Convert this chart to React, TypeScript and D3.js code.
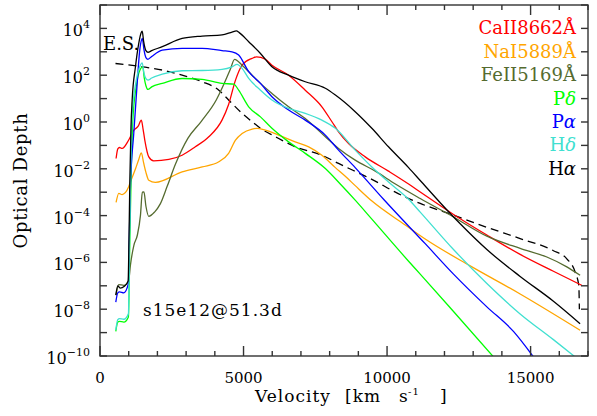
import React from 'react';
import * as d3 from 'd3';

// every point is [velocity in km/s, log10 of optical depth]
const caII8662 = [
  [560, -1.56], [620, -1.15], [680, -1.09], [770, -1.13], [1000, -0.77], [1180, -0.35], [1330, -0.18],
  [1440, 0.08], [1500, -0.3], [1560, -0.77], [1700, -1.49], [1870, -1.66], [2400, -1.6], [2860, -1.42],
  [3320, -1.06], [3790, -0.63], [4250, 0.08], [4480, 0.75], [4720, 1.79], [4950, 2.43], [5300, 2.72],
  [5450, 2.78], [5760, 2.68], [5990, 2.43], [6570, 2.0], [7150, 1.36], [7730, 0.65], [8080, 0.01],
  [8310, -0.42], [8660, -0.92], [9240, -1.49], [10050, -2.1], [10750, -2.65], [11155, -2.99],
  [12315, -3.95], [13477, -4.83], [14636, -5.66], [15795, -6.38], [16784, -6.98],
];
const naI5889 = [
  [560, -3.44], [655, -3.05], [770, -3.1], [1000, -2.77], [1060, -2.56], [1240, -1.99], [1350, -1.6],
  [1440, -1.32], [1520, -1.75], [1600, -2.15], [1700, -2.49], [1930, -2.58], [2860, -2.13], [3560, -1.92],
  [4140, -1.7], [4480, -1.34], [4720, -0.77], [4950, -0.49], [5300, -0.3], [5470, -0.27], [5760, -0.35],
  [6220, -0.56], [6800, -0.85], [7270, -1.06], [7730, -1.42], [8200, -1.95], [8545, -2.32], [8890, -2.72],
  [9474, -3.38], [10633, -4.4], [11329, -5.0], [12896, -6.15], [14636, -7.35], [16725, -8.9],
];
const feII5169 = [
  [560, -7.4], [650, -6.95], [830, -6.98], [1000, -6.76], [1060, -6.12], [1180, -5.27], [1300, -4.84],
  [1410, -3.98], [1475, -3.0], [1530, -2.99], [1600, -3.6], [1700, -4.03], [1900, -3.85], [2100, -3.5],
  [2340, -2.75], [2630, -1.8], [3060, -0.7], [3530, 0.03], [4050, 0.94], [4310, 1.6], [4540, 2.25],
  [4690, 2.68], [4950, 2.43], [5300, 2.0], [5590, 1.65], [5990, 1.22], [6570, 0.65], [7150, 0.15],
  [7850, -0.63], [8310, -1.13], [8890, -1.63], [9590, -2.1], [10290, -2.65], [11155, -3.27],
  [12315, -4.06], [13477, -4.88], [14636, -5.4], [15566, -5.77], [16262, -6.19], [16725, -6.55],
];
const pDelta = [
  [550, -8.95], [620, -8.55], [680, -8.52], [830, -8.55], [990, -8.33], [1040, -5.0], [1090, -2.0],
  [1140, 0.0], [1260, 1.5], [1400, 2.25], [1490, 2.36], [1540, 1.9], [1600, 1.55], [1670, 1.39],
  [1800, 1.5], [2170, 1.65], [2860, 1.86], [3560, 1.82], [4250, 1.65], [4660, 1.62], [4830, 1.36],
  [5180, 0.65], [5590, 0.22], [5990, -0.27], [6570, -0.85], [7150, -1.34], [7850, -1.99], [8370, -2.65],
  [8890, -3.34], [9470, -4.15], [10750, -5.95], [11155, -6.5], [12315, -8.1], [13709, -10.04],
];
const pAlpha = [
  [550, -7.7], [620, -7.3], [680, -7.26], [830, -7.3], [990, -6.9], [1020, -5.0], [1062, -2.7],
  [1176, -0.49], [1295, 1.65], [1385, 3.07], [1450, 3.52], [1475, 3.57], [1530, 3.1], [1600, 2.75],
  [1670, 2.68], [1800, 2.8], [2170, 3.07], [2860, 3.15], [3560, 3.15], [4250, 3.05], [4600, 3.0],
  [4830, 2.86], [5180, 2.15], [5590, 1.65], [5990, 1.08], [6570, 0.51], [7150, 0.08], [7850, -0.56],
  [8310, -1.2], [8890, -1.95], [9126, -2.27], [9878, -3.3], [11329, -5.2], [12315, -6.5],
  [13477, -7.9], [14403, -8.95], [15100, -10.04],
];
const hDelta = [
  [550, -8.9], [620, -8.45], [680, -8.4], [830, -8.43], [990, -8.2], [1030, -5.0], [1070, -2.0],
  [1120, 0.3], [1250, 1.7], [1380, 2.35], [1470, 2.53], [1530, 2.1], [1600, 1.85], [1670, 1.79],
  [1800, 1.88], [2170, 2.05], [2860, 2.19], [3560, 2.2], [4250, 2.25], [4600, 2.36], [4775, 2.46],
  [4950, 2.29], [5180, 1.86], [5590, 1.36], [5990, 0.94], [6570, 0.58], [7150, 0.37], [7730, 0.08],
  [8200, -0.27], [8890, -1.2], [9470, -1.92], [10050, -2.56], [10750, -3.3], [11155, -3.85],
  [12315, -5.45], [13477, -6.9], [14636, -8.2], [15795, -9.3], [16551, -10.04],
];
const hAlpha = [
  [550, -7.4], [620, -7.0], [700, -7.1], [850, -7.02], [980, -6.8], [1010, -5.0], [1040, -2.5],
  [1080, -0.2], [1120, 0.94], [1235, 2.36], [1350, 3.36], [1430, 3.8], [1470, 3.88], [1520, 3.45],
  [1600, 3.05], [1670, 2.98], [1800, 3.05], [2170, 3.22], [2860, 3.57], [3560, 3.67], [4250, 3.72],
  [4600, 3.84], [4750, 3.89], [4850, 3.82], [5180, 3.43], [5590, 2.93], [5990, 2.36], [6570, 2.0],
  [7150, 1.72], [7850, 1.44], [8200, 1.15], [8890, 0.44], [9470, -0.27], [10050, -1.06], [10750, -1.95],
  [11155, -2.5], [11852, -3.45], [12548, -4.35], [13477, -5.45], [14636, -6.6], [15785, -7.65],
  [16725, -8.62],
];
// electron scattering
const electronScattering = [
  [540, 2.5], [1470, 2.36], [2170, 2.22], [2860, 2.0], [3560, 1.72], [4140, 1.36], [4480, 0.94],
  [4950, 0.37], [5300, 0.01], [5590, -0.27], [6110, -0.63], [6800, -1.06], [7730, -1.42], [8310, -1.77],
  [9130, -2.25], [9470, -2.45], [10290, -3.0], [11155, -3.48], [12315, -3.98], [13477, -4.5],
  [14636, -4.98], [15795, -5.5], [16262, -5.85], [16551, -6.41], [16680, -7.0], [16700, -8.0],
];

const lineNames = ['CaII8662Å', 'NaI5889Å', 'FeII5169Å', 'Pδ', 'Pα', 'Hδ', 'Hα'];
const lineColors = ['#ff0000', '#ffa500', '#556b2f', '#00ff00', '#0000ff', '#40e0d0', '#000000'];
const lineData = [caII8662, naI5889, feII5169, pDelta, pAlpha, hDelta, hAlpha];

const xMajorTicks = [0, 5000, 10000, 15000];
const yLabelExponents = [4, 2, 0, -2, -4, -6, -8, -10];

const width = 597;
const height = 416;
const plot = { left: 100, right: 588, top: 5, bottom: 356 };
const font = '"DejaVu Serif", serif';

const x = d3.scaleLinear().domain([0, 17000]).range([plot.left, plot.right]);
const y = d3.scaleLog().domain([1e-10, 1e5]).range([plot.bottom, plot.top]);

const line = d3.line<number[]>()
  .x(d => x(d[0]))
  .y(d => y(Math.pow(10, d[1])))
  .curve(d3.curveMonotoneX);

const App = () => {
  const xMinor = d3.range(0, 17001, 1000);
  const yTicks = d3.range(-10, 6).map(e => Math.pow(10, e));
  const axisColor = '#333';

  return (
    <svg width={width} height={height} style={{ position: 'absolute', left: 0, top: 0, background: '#fff' }}
      fontFamily={font}>
      <defs>
        <clipPath id="plotArea">
          <rect x={plot.left} y={plot.top} width={plot.right - plot.left} height={plot.bottom - plot.top} />
        </clipPath>
      </defs>

      <g clipPath="url(#plotArea)" fill="none" strokeWidth={1.3}>
        <path d={line(electronScattering) || ''} stroke="#000" strokeDasharray="8,5" />
        {lineData.map((data, i) => (
          <path key={lineNames[i]} d={line(data) || ''} stroke={lineColors[i]} />
        ))}
      </g>

      {/* frame and ticks, all pointing inward */}
      <g stroke={axisColor} strokeWidth={1.4}>
        <rect x={plot.left} y={plot.top} width={plot.right - plot.left} height={plot.bottom - plot.top} fill="none" />
        {xMinor.map(v => {
          const len = xMajorTicks.includes(v) ? 10 : 5;
          return (
            <g key={'x' + v}>
              <line x1={x(v)} x2={x(v)} y1={plot.bottom} y2={plot.bottom - len} />
              <line x1={x(v)} x2={x(v)} y1={plot.top} y2={plot.top + len} />
            </g>
          );
        })}
        {yTicks.map(t => (
          <g key={'y' + t}>
            <line x1={plot.left} x2={plot.left + 7} y1={y(t)} y2={y(t)} />
            <line x1={plot.right} x2={plot.right - 7} y1={y(t)} y2={y(t)} />
          </g>
        ))}
      </g>

      {/* tick labels */}
      <g fontSize={16} fill="#000">
        {xMajorTicks.map(v => (
          <text key={v} x={x(v)} y={383} textAnchor="middle" fontSize={15}>{v}</text>
        ))}
        {yLabelExponents.map(e => (
          <text key={e} x={90} y={y(Math.pow(10, e)) + 8} textAnchor="end">
            10<tspan dy={-8} fontSize={11}>{e < 0 ? '\u2212' + Math.abs(e) : e}</tspan>
          </text>
        ))}
      </g>

      {/* axis titles */}
      <text transform={`translate(27,${(plot.top + plot.bottom) / 2}) rotate(-90)`} textAnchor="middle"
        fontSize={18} letterSpacing={0.7}>Optical Depth</text>
      <text y={402} fontSize={17} letterSpacing={1}>
        <tspan x={255}>Velocity</tspan>
        <tspan x={345}>[km</tspan>
        <tspan x={399}>s</tspan>
        <tspan x={408} dy={-7} fontSize={10}>-1</tspan>
        <tspan x={440} dy={7}>]</tspan>
      </text>

      {/* annotations */}
      <text x={103} y={50} fontSize={18}>E.S.</text>
      <text x={143} y={316} fontSize={17} letterSpacing={1}>s15e12@51.3d</text>

      {/* legend, one row per decade on the right axis */}
      <g fontSize={18} textAnchor="end">
        {lineNames.map((name, i) => {
          const greek = /[αδ]$/.test(name);
          return (
            <text key={name} x={576} y={y(Math.pow(10, 4 - i)) + 6} fill={lineColors[i]}>
              {greek ? name.slice(0, -1) : name}
              {greek && <tspan fontStyle="italic">{name.slice(-1)}</tspan>}
            </text>
          );
        })}
      </g>
    </svg>
  );
};

export default App;
